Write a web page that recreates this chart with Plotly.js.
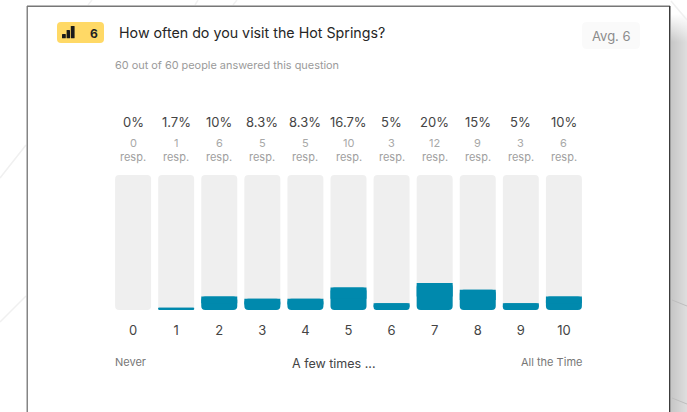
<!DOCTYPE html>
<html>
<head>
<meta charset="utf-8">
<title>How often do you visit the Hot Springs?</title>
<script src="https://cdn.plot.ly/plotly-3.0.1.min.js"></script>
<style>
  html, body { margin: 0; padding: 0; background: #fff; overflow: hidden; }
  #stage { position: relative; width: 687px; height: 412px; }
  /* soft drop shadow falling off the right edge of the card */
  #shadow {
    position: absolute; left: 671px; top: 0; width: 16px; height: 412px;
    background:
      linear-gradient(to bottom, #fff 0, #fff 14px, rgba(255,255,255,0) 42px),
      linear-gradient(to right, #c6c6c6, #dedede);
  }
  #chart { position: absolute; left: 0; top: 0; width: 687px; height: 412px; }
</style>
</head>
<body>
<div id="stage">
  <div id="shadow"></div>
  <div id="chart"></div>
</div>
<script>
// Survey question and its results
const questionTitle = 'How often do you visit the Hot Springs?';
const answeredNote = '60 out of 60 people answered this question';
const averageLabel = 'Avg. 6';
const questionNumber = '<b>6</b>';

const categories = [0, 1, 2, 3, 4, 5, 6, 7, 8, 9, 10];
const percentValues = [0, 1.7, 10, 8.3, 8.3, 16.7, 5, 20, 15, 5, 10];
const respCounts = [0, 1, 6, 5, 5, 10, 3, 12, 9, 3, 6];
const fullScale = [100, 100, 100, 100, 100, 100, 100, 100, 100, 100, 100];
const zeroBase = [0, 0, 0, 0, 0, 0, 0, 0, 0, 0, 0];

const scaleLow = 'Never';
const scaleMid = 'A few times ...';
const scaleHigh = 'All the Time';

// Plot area in page pixels; everything outside it is placed relative to it
const W = 687, H = 412;
const L = 115, R = 582, T = 175, B = 310;
const px = v => (v - L) / (R - L);
const py = v => (B - v) / (B - T);

const FONT = 'Inter, "Noto Sans", sans-serif';

function note(text, x, y, size, color, anchor, xref) {
  return {
    text, x, y, xref: xref || 'paper', yref: 'paper',
    xanchor: anchor || 'center', yanchor: 'middle',
    showarrow: false, font: { family: FONT, size, color }
  };
}

const annotations = [
  note(answeredNote, px(113), py(65), 10.9, '#9a9a9a', 'left'),
  note(averageLabel, px(611), py(36), 13, '#8c8c8c'),
  note(questionNumber, px(94), py(33), 12, '#222222'),
  note(scaleLow, px(113), py(362), 11, '#777777', 'left'),
  note(scaleMid, px(333), py(363), 12.5, '#444444'),
  note(scaleHigh, px(584), py(362), 11, '#777777', 'right')
];
categories.forEach((c, i) => {
  annotations.push(note(percentValues[i] + '%', c, py(122), 13, '#444444', 'center', 'x'));
  annotations.push(note(String(respCounts[i]), c, py(143), 11, '#a8a8a8', 'center', 'x'));
  annotations.push(note('resp.', c, py(157), 11, '#a0a0a0', 'center', 'x'));
});

function pagePath(d) {
  return { type: 'path', xref: 'paper', yref: 'paper', path: d, line: { width: 0 }, layer: 'below' };
}
function roundRect(x0, y0, x1, y1, r, fill) {
  // corners are built in page pixels, then converted to paper fractions
  const p = (x, y) => px(x) + ',' + py(y);
  const d = 'M' + p(x0 + r, y0) + ' L' + p(x1 - r, y0) + ' Q' + p(x1, y0) + ' ' + p(x1, y0 + r) +
    ' L' + p(x1, y1 - r) + ' Q' + p(x1, y1) + ' ' + p(x1 - r, y1) +
    ' L' + p(x0 + r, y1) + ' Q' + p(x0, y1) + ' ' + p(x0, y1 - r) +
    ' L' + p(x0, y0 + r) + ' Q' + p(x0, y0) + ' ' + p(x0 + r, y0) + ' Z';
  return Object.assign(pagePath(d), { fillcolor: fill });
}
function rule(x0, y0, x1, y1, color, width) {
  return {
    type: 'line', xref: 'paper', yref: 'paper', layer: 'below',
    x0: px(x0), y0: py(y0), x1: px(x1), y1: py(y1),
    line: { color, width }
  };
}

const shapes = [
  // faint diagonal lines of the page backdrop
  rule(0, 178, 26, 145, '#f0f0f0', 1.5),
  rule(0, 322, 26, 296, '#f0f0f0', 1.5),
  rule(88, 5, 92, 0, '#f2f2f2', 1.5),
  rule(195, 5, 198, 0, '#f2f2f2', 1.5),
  rule(233, 5, 237, 0, '#f2f2f2', 1.5),
  rule(671, 1, 687, 20, '#f0f0f0', 1.5),
  rule(672, 300, 687, 306, '#bdbdbd', 1),
  rule(672, 398, 687, 404, '#bdbdbd', 1),
  // card
  { type: 'rect', xref: 'paper', yref: 'paper', layer: 'below',
    x0: px(27.5), y0: py(412), x1: px(670), y1: py(6),
    fillcolor: '#ffffff', line: { width: 0 } },
  rule(27.25, 6, 27.25, 412, '#858585', 1.5),
  rule(27, 6.25, 670, 6.25, '#777777', 1.5),
  rule(669.75, 6, 669.75, 412, '#3c3c3c', 1.5),
  // question-type badge and its signal icon
  roundRect(57, 22, 104, 43, 4, '#ffd966'),
  roundRect(62, 34, 65.8, 38.3, 0.6, '#1a1a1a'),
  roundRect(66.6, 30, 70, 38.3, 0.6, '#1a1a1a'),
  roundRect(70.8, 26, 74.6, 38.3, 0.6, '#1a1a1a'),
  // average chip
  roundRect(582, 22, 640, 49, 5, '#fafafa')
];

// A bar given an explicit base rounds both of its ends. The filled bars get a
// square-cornered upper half laid over them so that only the bottom stays round.
const upperBase = percentValues.map(v => v / 2);
const upperHeight = percentValues.map(v => v / 2);

const common = { type: 'bar', x: categories, hoverinfo: 'skip', cliponaxis: false };
const traces = [
  Object.assign({}, common, {
    y: fullScale, base: zeroBase,
    marker: { color: '#efefef', line: { width: 0 }, cornerradius: 4 }
  }),
  Object.assign({}, common, {
    y: percentValues, base: zeroBase,
    marker: { color: '#0089ad', line: { width: 0 }, cornerradius: 4 }
  }),
  Object.assign({}, common, {
    y: upperHeight, base: upperBase,
    marker: { color: '#0089ad', line: { width: 0 }, cornerradius: 0 }
  })
];

const layout = {
  width: W, height: H,
  margin: { l: L, r: W - R, t: T, b: H - B, pad: 0 },
  paper_bgcolor: 'rgba(0,0,0,0)',
  plot_bgcolor: 'rgba(0,0,0,0)',
  showlegend: false,
  barmode: 'overlay',
  bargap: 0.165,
  font: { family: FONT },
  title: {
    text: questionTitle, xref: 'container', yref: 'container',
    x: 119 / W, xanchor: 'left', y: 1 - 33 / H, yanchor: 'middle',
    pad: { l: 0, r: 0, t: 0, b: 0 },
    font: { family: FONT, size: 14.25, color: '#262626' }
  },
  xaxis: {
    range: [-0.42, 10.42], fixedrange: true,
    tickmode: 'array', tickvals: categories, ticktext: categories.map(String),
    ticks: 'outside', ticklen: 8, tickcolor: 'rgba(0,0,0,0)',
    tickfont: { family: FONT, size: 13, color: '#444444' },
    showgrid: false, zeroline: false, showline: false
  },
  yaxis: { range: [0, 100], fixedrange: true, visible: false },
  shapes, annotations
};

Plotly.newPlot('chart', traces, layout, { displayModeBar: false, staticPlot: true });
</script>
</body>
</html>
